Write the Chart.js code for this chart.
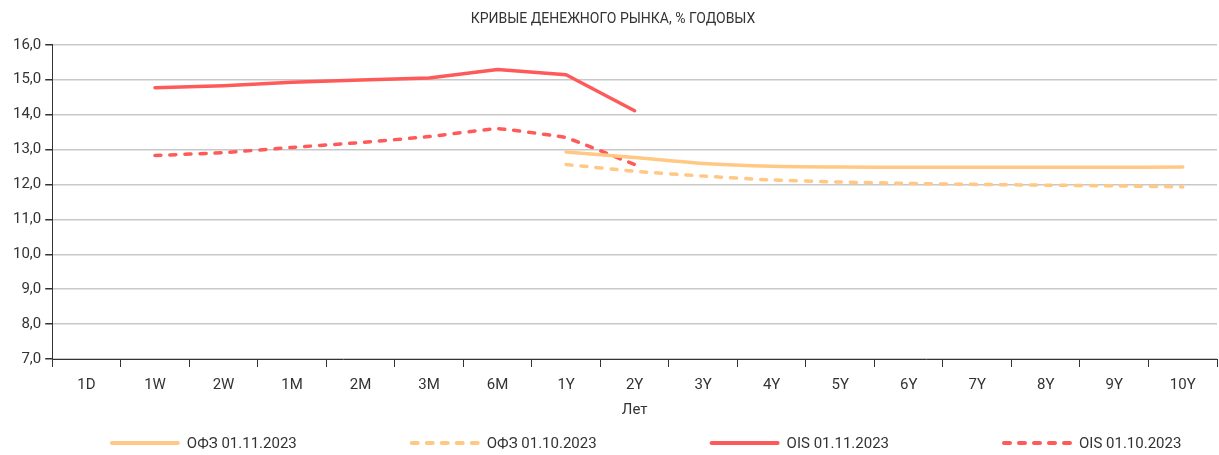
<!DOCTYPE html>
<html><head><meta charset="utf-8">
<script src="https://cdn.jsdelivr.net/npm/chart.js@4/dist/chart.umd.min.js"></script>
<style>html,body{margin:0;padding:0;background:#fff}#wrap{width:1219px;height:455px;position:relative}</style>
</head><body><div id="wrap"><canvas id="c"></canvas></div>
<script>
const categories = ['1D','1W','2W','1M','2M','3M','6M','1Y','2Y','3Y','4Y','5Y','6Y','7Y','8Y','9Y','10Y'];
const ofz_2023_11_01 = [null,null,null,null,null,null,null,12.93,12.77,12.60,12.52,12.50,12.49,12.49,12.49,12.49,12.50];
const ofz_2023_10_01 = [null,null,null,null,null,null,null,12.57,12.38,12.24,12.13,12.07,12.03,12.00,11.98,11.96,11.93];
const ois_2023_11_01 = [null,14.77,14.83,14.93,14.99,15.05,15.29,15.14,14.11,null,null,null,null,null,null,null,null];
const ois_2023_10_01 = [null,12.83,12.91,13.06,13.20,13.37,13.60,13.34,12.57,null,null,null,null,null,null,null,null];
const seriesNames = ['ОФЗ 01.11.2023','ОФЗ 01.10.2023','OIS 01.11.2023','OIS 01.10.2023'];
const yTicks = [7,8,9,10,11,12,13,14,15,16];

const FONT = "Roboto, 'Liberation Sans', sans-serif";
const ORANGE = '#FFC985';
const RED = '#FF5A5A';
const DASH = [6,9];
const mk = (label, data, color, dash, tension) => ({
  label, data, borderColor: color, backgroundColor: color, borderWidth: 3.5,
  borderDash: dash, borderCapStyle: 'round', borderJoinStyle: 'round',
  pointRadius: 0, pointHoverRadius: 0, tension, spanGaps: false, fill: false
});

const bottomLegend = {
  id: 'bottomLegend',
  afterDraw(chart) {
    const ctx = chart.ctx;
    const dsets = chart.data.datasets;
    const lineLen = 68, gapText = 9, gapItem = 113, y = 443;
    ctx.save();
    ctx.font = "15px " + FONT;
    const widths = dsets.map(d => lineLen + gapText + ctx.measureText(d.label).width);
    const total = widths.reduce((a, b) => a + b, 0) + gapItem * (dsets.length - 1);
    let x = (chart.chartArea.left + chart.chartArea.right) / 2 - total / 2 + 11;
    dsets.forEach((d, i) => {
      ctx.beginPath();
      ctx.strokeStyle = d.borderColor;
      ctx.lineWidth = 4;
      ctx.lineCap = 'round';
      ctx.setLineDash(d.borderDash || []);
      ctx.moveTo(x + 2, y);
      ctx.lineTo(x + lineLen, y);
      ctx.stroke();
      ctx.setLineDash([]);
      ctx.fillStyle = '#333';
      ctx.textBaseline = 'middle';
      ctx.textAlign = 'left';
      ctx.fillText(d.label, x + lineLen + gapText, y + 1);
      x += widths[i] + gapItem;
    });
    ctx.restore();
  }
};

new Chart(document.getElementById('c'), {
  type: 'line',
  data: {
    labels: categories,
    datasets: [
      mk(seriesNames[0], ofz_2023_11_01, ORANGE, [], 0.25),
      mk(seriesNames[1], ofz_2023_10_01, ORANGE, DASH, 0.25),
      mk(seriesNames[2], ois_2023_11_01, RED, [], 0),
      mk(seriesNames[3], ois_2023_10_01, RED, DASH, 0.08)
    ]
  },
  plugins: [bottomLegend],
  options: {
    responsive: true, maintainAspectRatio: false, animation: false,
    layout: { padding: { left: 9, right: 2, top: 8, bottom: 36 } },
    plugins: {
      tooltip: { enabled: false },
      legend: { display: false },
      title: { display: true, text: 'КРИВЫЕ ДЕНЕЖНОГО РЫНКА, % ГОДОВЫХ', color: '#333',
        font: { family: FONT, size: 14, weight: 'normal' }, padding: { top: 3, bottom: 17 } }
    },
    scales: {
      x: {
        offset: true,
        grid: { display: true, offset: true, drawOnChartArea: false, drawTicks: true, tickLength: 8, color: '#333' },
        border: { display: true, color: '#333', width: 1 },
        ticks: { color: '#333', font: { family: FONT, size: 15 }, maxRotation: 0, autoSkip: false, padding: 9 },
        title: { display: true, text: 'Лет', color: '#333', font: { family: FONT, size: 15 }, padding: { top: -2, bottom: 0 } }
      },
      y: {
        min: 7, max: 16,
        afterBuildTicks: (s) => { s.ticks = yTicks.map(v => ({ value: v })); },
        grid: { color: '#c8c8c8', lineWidth: 1.5, drawTicks: true, tickLength: 7, tickColor: '#333' },
        border: { display: true, color: '#333', width: 1 },
        ticks: { color: '#333', font: { family: FONT, size: 15 }, padding: 4, autoSkip: false,
          callback: (v) => Number(v).toFixed(1).replace('.', ',') }
      }
    }
  }
});
</script></body></html>
